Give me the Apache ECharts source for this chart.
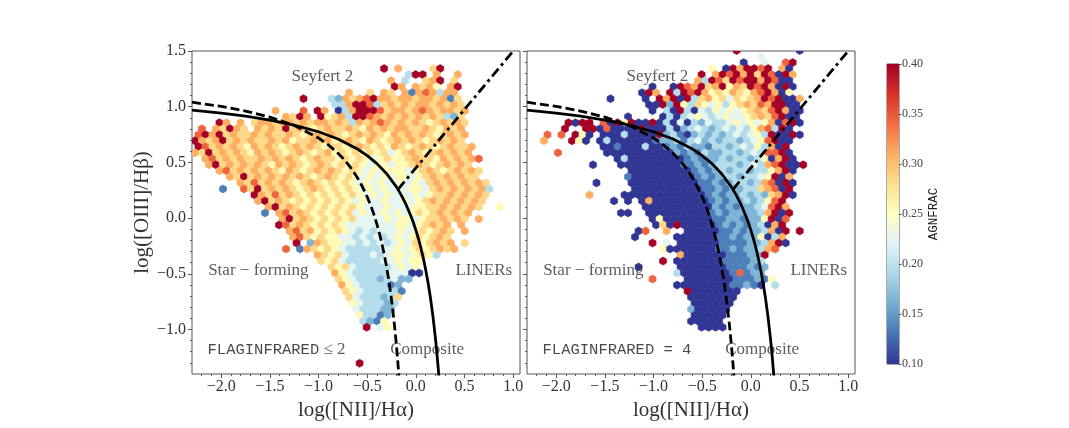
<!DOCTYPE html>
<html>
<head>
<meta charset="utf-8">
<script src="https://cdn.jsdelivr.net/npm/echarts@6/dist/echarts.min.js"></script>
<style>
html, body { margin: 0; padding: 0; background: #fff; }
#main { width: 1069px; height: 428px; }
</style>
</head>
<body>
<div id="main"></div>
<script>
// ticks
var xTicks = [-2.0, -1.5, -1.0, -0.5, 0.0, 0.5, 1.0];
var yTicks = [-1.0, -0.5, 0.0, 0.5, 1.0, 1.5];
var xMinorTicks = [-2.2, -2.1, -1.9, -1.8, -1.7, -1.6, -1.4, -1.3, -1.2, -1.1, -0.9, -0.8, -0.7, -0.6,
    -0.4, -0.3, -0.2, -0.1, 0.1, 0.2, 0.3, 0.4, 0.6, 0.7, 0.8, 0.9];
var yMinorTicks = [-1.3, -1.2, -1.1, -0.9, -0.8, -0.7, -0.6, -0.4, -0.3, -0.2, -0.1,
    0.1, 0.2, 0.3, 0.4, 0.6, 0.7, 0.8, 0.9, 1.1, 1.2, 1.3, 1.4];
var cbTicks = [0.10, 0.15, 0.20, 0.25, 0.30, 0.35, 0.40];

// demarcation lines (Kauffmann dashed, Kewley solid, Schawinski dash-dot)
var kauffmann = [[-2.3, 1.040], [-2.0, 1.002], [-1.75, 0.961], [-1.5, 0.906], [-1.25, 0.831], [-1.0, 0.719],
    [-0.9, 0.658], [-0.8, 0.582], [-0.75, 0.538], [-0.7, 0.487], [-0.65, 0.429], [-0.6, 0.362], [-0.55, 0.283],
    [-0.5, 0.191], [-0.45, 0.080], [-0.425, 0.016], [-0.4, -0.056], [-0.375, -0.135], [-0.35, -0.225],
    [-0.325, -0.327], [-0.3, -0.443], [-0.275, -0.577], [-0.25, -0.733], [-0.225, -0.918], [-0.2, -1.140],
    [-0.19, -1.242], [-0.18, -1.352], [-0.17, -1.473]];
var kewley = [[-2.3, 0.970], [-2.0, 0.943], [-1.75, 0.915], [-1.5, 0.880], [-1.25, 0.835], [-1.0, 0.775],
    [-0.8, 0.710], [-0.6, 0.620], [-0.5, 0.561], [-0.4, 0.489], [-0.3, 0.398], [-0.2, 0.280], [-0.15, 0.206],
    [-0.1, 0.120], [-0.05, 0.017], [-0.025, -0.042], [0.0, -0.108], [0.025, -0.181], [0.05, -0.262],
    [0.075, -0.354], [0.1, -0.459], [0.125, -0.578], [0.15, -0.716], [0.175, -0.878], [0.2, -1.069],
    [0.21, -1.156], [0.22, -1.25], [0.23, -1.352], [0.24, -1.462]];
var schawinski = [[-0.183, 0.258], [1.0, 1.5]];

// hexbin cells: one string per hex row (top to bottom), one char per column, '.' = empty
// digit = AGNFRAC class, looked up in codeValues
var codeValues = [0.10, 0.135, 0.165, 0.195, 0.225, 0.255, 0.285, 0.31, 0.345, 0.40];
var HEX_X0 = -2.27, HEX_Y0 = 1.504, HEX_DX = 0.072, HEX_DY = 0.054;

var hexLeft = [
    "",
    "",
    "",
    "..........|..........|.......9.7|....69....|.......",
    "..........|..........|..........|399.7..7..|.......",
    "..........|..........|........7.|3..679.6..|.......",
    "..........|..........|........97|.7675.79..|.......",
    "..........|..........|..7..6.76.|71787377..|.......",
    "..........|.....9...3|2767897767|76776716..|.......",
    "..........|..........|3379983676|767767676.|.......",
    "..........|.7...8.97.|0379998677|678767767.|.......",
    "..........|...7697.95|6739987676|767676326.|.......",
    "...97.7.67|7677676776|7637678767|676567676.|.......",
    ".8.76976.7|6769676567|6676576767|766765767.|.......",
    "8979676676|7667656767|6567676576|767656767.|.......",
    "9767967676|6767566767|5676576567|676567676.|.......",
    "9867676576|7656767656|6567656576|5676567667|.......",
    "7696767657|6765676567|5656565645|6765676767|.......",
    ".786767667|6767656766|5656545655|6766576767|8......",
    "..79676767|6576765676|5656545545|5676567676|.......",
    "...7867676|7657656767|6565454555|4567656767|6......",
    ".....76967|6767676567|6565454545|5456767676|6......",
    "......7686|7676567656|5654545445|4546767676|76.....",
    "....1..869|6767656765|6565454544|4554676767|673....",
    "........97|6867656565|6565454544|4545667676|76.....",
    ".........7|9676565656|5654544544|5456767676|76.....",
    "..........|7967656565|6565444544|4556676767|6..5...",
    "..........|1.78676565|6564544545|4565676767|.......",
    "..........|..79676565|6564444545|545667676.|7......",
    "..........|..98676565|6544444445|5456767.7.|.......",
    "..........|...7867565|6543434445|4565676.7.|.......",
    "..........|....786565|5443434345|4565676...|.......",
    "..........|....9.2765|5443434345|4656767.6.|.......",
    "..........|...8.17656|5433333445|45656767..|.......",
    "..........|.......765|6433343455|45653.....|.......",
    "..........|........65|6433333445|455.......|.......",
    "..........|.........6|5643333345|45........|.......",
    "..........|..........|7543333344|400.......|.......",
    "..........|..........|6543332342|2.........|.......",
    "..........|..........|.754333312|..........|.......",
    "..........|..........|.654333331|..........|.......",
    "..........|..........|..64333236|..........|.......",
    "..........|..........|..5433323.|..........|.......",
    "..........|..........|...433322.|..........|.......",
    "..........|..........|...53312..|..........|.......",
    "..........|..........|....3215..|..........|.......",
    "..........|..........|....9.45..|..........|.......",
    "",
    "",
    "",
    "",
    "",
    "..........|..........|...9......|..........|......."
];

var hexRight = [
    "..........|..........|.........9|........0.|.......",
    "..........|..........|..........|...4......|.......",
    "..........|..........|..........|0..4..89..|.......",
    "..........|..........|......5.09|79989.70..|.......",
    "..........|..........|....9.7989|79698097..|.......",
    "..........|..........|....739869|89979800..|.......",
    "..........|.......0..|0987967957|69897090..|.......",
    "..........|......097.|9398975657|65789705..|.......",
    "..........|.0....0.97|9093675646|567989007.|.......",
    "..........|.......009|2953654535|676879900.|.......",
    "..........|.......0.3|0930435454|567689700.|.......",
    "..........|....0....0|3034543454|456768900.|.......",
    ".....9099.|8095900903|0403243345|454570890.|.......",
    ".....9..99|0800009000|3023432343|43578390..|.......",
    "..8.8.950.|0003000092|3102323234|345390090.|.......",
    "..7...950.|0300000012|2313423233|23458900..|.......",
    "..........|0010003001|2132213323|4353709...|.......",
    "....8.....|.000000000|0212132233|23438890..|.......",
    "..........|..03000000|0012122323|32350790..|.......",
    ".........0|...0000000|0011212333|2343789009|.......",
    "..........|....000000|0001212323|32335790..|.......",
    "..........|....100000|0000121233|23345907..|.......",
    ".........0|....000000|0000112123|32378090..|.......",
    "..........|.....00000|0000011212|23367809..|.......",
    "........7.|...0000000|0000012122|32326790..|.......",
    "..........|..0.0.0700|0000001212|2323589...|.......",
    "..........|......0000|0000002121|2234897...|.......",
    "..........|...00..000|0000001212|22237909..|.......",
    "..........|.......050|0000001122|1225908...|.......",
    "..........|........06|0900000121|2123079...|.......",
    "..........|.....08..7|..00000112|1223709.9.|.......",
    "..........|.....0....|.000000112|1225037...|.......",
    "..........|.......9.4|.000000111|1223790...|.......",
    "..........|.........5|0000000112|122378....|.......",
    "..........|..........|.700000011|1229......|.......",
    "..........|.........9|.000000011|1123......|.......",
    "..........|.....0....|.000000011|1212......|.......",
    "..........|..........|.300000001|8122......|.......",
    "..........|.......8..|..00000001|11215.....|.......",
    "..........|..........|.000000001|1210.3....|.......",
    "..........|..........|..90000000|..........|.......",
    "..........|..........|...0000000|..........|.......",
    "..........|..........|...000000.|..........|.......",
    "..........|..........|...200000.|..........|.......",
    "..........|..........|...00000..|..........|.......",
    "..........|..........|...00000..|..........|.......",
    "..........|..........|....0000..|..........|......."
];

// region labels (data coordinates of their anchors)
var noteText = ['Seyfert 2', 'Star \u2212 forming', 'LINERs', 'Composite'];
var noteX = [-0.96, -2.134, 0.698, -0.263];
var noteY = [1.275, -0.47, -0.47, -1.18];
var noteAlign = ['center', 'left', 'center', 'left'];
var flagText = ['{m|FLAGINFRARED} {s|\u2264 2}', '{m|FLAGINFRARED = 4}'];
var flagX = -2.14, flagY = -1.18;

var RDYLBU_R = ['#313695', '#4575b4', '#74add1', '#abd9e9', '#e0f3f8', '#ffffbf',
    '#fee090', '#fdae61', '#f46d43', '#d73027', '#a50026'];
var SERIF = "'Liberation Serif', 'DejaVu Serif', serif";
var MONO = "'Liberation Mono', 'DejaVu Sans Mono', monospace";

function hexCells(rows) {
    var out = [];
    rows.forEach(function(row, i) {
        var s = row.replace(/\|/g, '');
        for (var c = 0; c < s.length; c++) {
            var ch = s.charAt(c);
            if (ch === '.') continue;
            var x = HEX_X0 + c * HEX_DX + (i % 2 === 0 ? HEX_DX / 2 : 0);
            var y = HEX_Y0 - i * HEX_DY;
            out.push([x, y, codeValues[+ch]]);
        }
    });
    return out;
}

function renderHex(params, api) {
    var c = api.coord([api.value(0), api.value(1)]);
    var s = api.size([HEX_DX, HEX_DY]);
    var hw = s[0] / 2, r = s[1] / 1.5;
    var col = api.visual('color');
    return {
        type: 'polygon',
        shape: { points: [[c[0], c[1] - r], [c[0] + hw, c[1] - r / 2], [c[0] + hw, c[1] + r / 2],
            [c[0], c[1] + r], [c[0] - hw, c[1] + r / 2], [c[0] - hw, c[1] - r / 2]] },
        style: { fill: col, stroke: col, lineWidth: 0.6 }
    };
}

function fmt1(v) {
    if (Math.abs(v) < 1e-9) return '0.0';
    return (v < 0 ? '\u2212' : '') + Math.abs(v).toFixed(1);
}

function mainX(gi) {
    return {
        type: 'value', gridIndex: gi, min: -2.3, max: 1.07, position: 'bottom',
        name: 'log([NII]/H\u03b1)', nameLocation: 'middle', nameGap: 21,
        nameTextStyle: { fontFamily: SERIF, fontSize: 21, color: '#333', verticalAlign: 'top' },
        axisLine: { show: false, onZero: false }, splitLine: { show: false },
        axisTick: { show: true, inside: false, length: 4, customValues: xTicks, lineStyle: { color: '#555' } },
        axisLabel: { customValues: xTicks, formatter: fmt1, fontFamily: SERIF, fontSize: 16, color: '#333', margin: 5 }
    };
}
function minorX(gi) {
    return {
        type: 'value', gridIndex: gi, min: -2.3, max: 1.07, position: 'bottom',
        axisLine: { show: false, onZero: false }, splitLine: { show: false }, axisLabel: { show: false },
        axisTick: { show: true, inside: false, length: 2, customValues: xMinorTicks, lineStyle: { color: '#555' } }
    };
}
function mainY(gi, labels) {
    var ax = {
        type: 'value', gridIndex: gi, min: -1.4, max: 1.5, position: 'left',
        axisLine: { show: false, onZero: false }, splitLine: { show: false },
        axisTick: { show: true, inside: false, length: 4, customValues: yTicks, lineStyle: { color: '#555' } },
        axisLabel: { show: labels, customValues: yTicks, formatter: fmt1, fontFamily: SERIF, fontSize: 16, color: '#333', margin: 6 }
    };
    if (labels) {
        ax.name = 'log([OIII]/H\u03b2)';
        ax.nameLocation = 'middle';
        ax.nameGap = 39;
        ax.nameRotate = 90;
        ax.nameTextStyle = { fontFamily: SERIF, fontSize: 21, color: '#333' };
    }
    return ax;
}
function minorY(gi) {
    return {
        type: 'value', gridIndex: gi, min: -1.4, max: 1.5, position: 'left',
        axisLine: { show: false, onZero: false }, splitLine: { show: false }, axisLabel: { show: false },
        axisTick: { show: true, inside: false, length: 2, customValues: yMinorTicks, lineStyle: { color: '#555' } }
    };
}

function lineSeries(idx, pts, type) {
    return {
        type: 'line', xAxisIndex: idx, yAxisIndex: idx, data: pts, symbol: 'none', silent: true, z: 5,
        lineStyle: { color: '#000', width: 2.8, type: type }
    };
}

function notesSeries(idx) {
    var data = noteText.map(function(t, k) {
        return { value: [noteX[k], noteY[k]], label: { formatter: t, align: noteAlign[k] } };
    });
    data.push({
        value: [flagX, flagY],
        label: {
            formatter: flagText[idx], align: 'left',
            rich: {
                m: { fontFamily: MONO, fontSize: 15.5, color: '#1a1a1a' },
                s: { fontFamily: SERIF, fontSize: 17, color: '#333' }
            }
        }
    });
    return {
        type: 'scatter', xAxisIndex: idx, yAxisIndex: idx, data: data, symbolSize: 1, silent: true, z: 4,
        itemStyle: { color: 'rgba(0,0,0,0)' },
        label: { show: true, position: 'inside', verticalAlign: 'middle', fontFamily: SERIF, fontSize: 17, color: '#333' }
    };
}

var chart = echarts.init(document.getElementById('main'), null, { renderer: 'canvas' });

var option = {
    animation: false,
    backgroundColor: '#fff',
    grid: [
        { left: 192, top: 51, width: 328, height: 323, show: true, borderColor: '#555', borderWidth: 1 },
        { left: 527, top: 51, width: 328, height: 323, show: true, borderColor: '#555', borderWidth: 1 },
        { left: 887, top: 64, width: 12, height: 300, show: true, borderColor: '#555', borderWidth: 1 }
    ],
    xAxis: [mainX(0), mainX(1), minorX(0), minorX(1),
        { type: 'value', gridIndex: 2, min: 0, max: 1, show: false }],
    yAxis: [mainY(0, true), mainY(1, false), minorY(0), minorY(1),
        {
            type: 'value', gridIndex: 2, min: 0.1, max: 0.4, position: 'right',
            name: 'AGNFRAC', nameLocation: 'middle', nameGap: 26, nameRotate: 90,
            nameTextStyle: { fontFamily: MONO, fontSize: 12.5, color: '#222' },
            axisLine: { show: false, onZero: false }, splitLine: { show: false },
            axisTick: { show: true, inside: false, length: 2.5, customValues: cbTicks, lineStyle: { color: '#555' } },
            axisLabel: { customValues: cbTicks, formatter: function(v) { return v.toFixed(2); }, fontFamily: SERIF, fontSize: 12, color: '#444', margin: 3 }
        }],
    visualMap: {
        type: 'continuous', show: false, min: 0.1, max: 0.4, dimension: 2, seriesIndex: [0, 1],
        inRange: { color: RDYLBU_R }
    },
    series: [
        { type: 'custom', xAxisIndex: 0, yAxisIndex: 0, data: hexCells(hexLeft), renderItem: renderHex, clip: true, silent: true, encode: { x: 0, y: 1 } },
        { type: 'custom', xAxisIndex: 1, yAxisIndex: 1, data: hexCells(hexRight), renderItem: renderHex, clip: true, silent: true, encode: { x: 0, y: 1 } },
        lineSeries(0, kauffmann, [9, 4]),
        lineSeries(0, kewley, 'solid'),
        lineSeries(0, schawinski, [10, 4, 3, 4]),
        lineSeries(1, kauffmann, [9, 4]),
        lineSeries(1, kewley, 'solid'),
        lineSeries(1, schawinski, [10, 4, 3, 4]),
        notesSeries(0),
        notesSeries(1),
        {
            type: 'custom', xAxisIndex: 4, yAxisIndex: 4, data: [[0, 0.1]], silent: true,
            renderItem: function(params, api) {
                var p0 = api.coord([0, 0.4]), p1 = api.coord([1, 0.1]);
                var stops = RDYLBU_R.map(function(c, k) { return { offset: k / (RDYLBU_R.length - 1), color: c }; });
                return {
                    type: 'rect',
                    shape: { x: p0[0], y: p0[1], width: p1[0] - p0[0], height: p1[1] - p0[1] },
                    style: { fill: new echarts.graphic.LinearGradient(0, 1, 0, 0, stops) }
                };
            }
        }
    ]
};

chart.setOption(option);
</script>
</body>
</html>
